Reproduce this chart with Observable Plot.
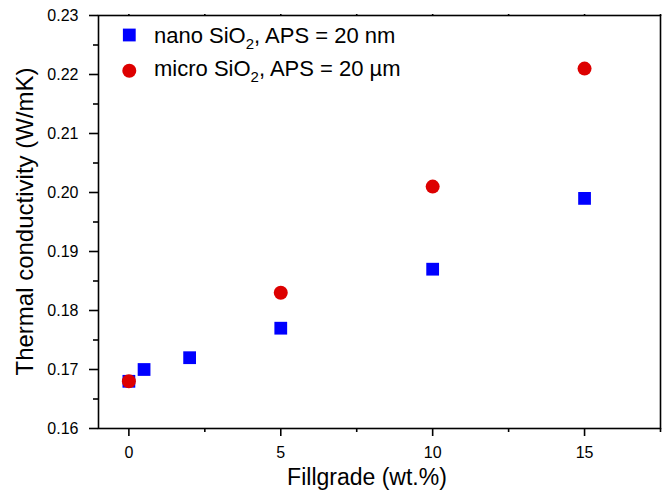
<!DOCTYPE html>
<html><head><meta charset="utf-8">
<script src="https://cdn.jsdelivr.net/npm/d3@7"></script>
<script src="https://cdn.jsdelivr.net/npm/@observablehq/plot@0.6"></script>
<style>
body{margin:0;background:#fff}
#chart svg{font-family:"Liberation Sans",Arial,Helvetica,sans-serif;}
</style>
</head><body><div id="chart"></div>
<script>
// ---- data ----
const nanoX = [0, 0.5, 2, 5, 10, 15];
const nanoY = [0.168, 0.170, 0.172, 0.177, 0.187, 0.199];
const microX = [0, 5, 10, 15];
const microY = [0.168, 0.183, 0.201, 0.221];
const xTicks = [0, 5, 10, 15];
const xMinorTicks = [2.5, 7.5, 12.5, 17.5];
const yTicks = [0.16, 0.17, 0.18, 0.19, 0.20, 0.21, 0.22, 0.23];
const yMinorTicks = [0.165, 0.175, 0.185, 0.195, 0.205, 0.215, 0.225];
const seriesNames = [["nano SiO", "2", ", APS = 20 nm"], ["micro SiO", "2", ", APS = 20 \u00B5m"]];
const xTitle = "Fillgrade (wt.%)";
const yTitle = "Thermal conductivity (W/mK)";
const blue = "#0000ff", red = "#dd0000";

const nano = nanoX.map((x, i) => ({x, y: nanoY[i]}));
const micro = microX.map((x, i) => ({x, y: microY[i]}));

const W = 665, H = 494;
const plot = Plot.plot({
  width: W, height: H,
  marginLeft: 98, marginRight: 5, marginTop: 15, marginBottom: 66,
  style: {fontFamily: '"Liberation Sans",Arial,Helvetica,sans-serif', fontSize: "16px", color: "#000", background: "#fff", overflow: "visible"},
  x: {domain: [-1, 17.5]},
  y: {domain: [0.16, 0.23]},
  marks: [
    Plot.axisX({ticks: xTicks, tickSize: 8, tickPadding: 10, strokeWidth: 1.6, label: null, fontSize: 16}),
    Plot.axisX({ticks: xMinorTicks, tickSize: 4, strokeWidth: 1.6, text: null, label: null}),
    Plot.axisX({anchor: "top", ticks: [...xTicks, ...xMinorTicks], tickSize: 2, strokeWidth: 1.6, text: null, label: null}),
    Plot.axisY({ticks: yTicks, tickSize: 9, tickPadding: 11, strokeWidth: 1.6, tickFormat: d3.format(".2f"), label: null, fontSize: 16}),
    Plot.axisY({ticks: yMinorTicks, tickSize: 5, strokeWidth: 1.6, text: null, label: null}),
    Plot.frame({stroke: "#000", strokeWidth: 1.6}),
    Plot.dot(nano, {x: "x", y: "y", symbol: "square", r: 7.2, fill: blue, stroke: null}),
    Plot.dot(micro, {x: "x", y: "y", symbol: "circle", r: 7, fill: red, stroke: null})
  ]
});
document.getElementById("chart").appendChild(plot);

const svg = d3.select(plot);
const ff = '"Liberation Sans",Arial,Helvetica,sans-serif';
// axis titles
svg.append("text").attr("x", 367).attr("y", 485).attr("text-anchor", "middle")
  .attr("font-size", 23).attr("font-family", ff).attr("fill", "#000").text(xTitle);
svg.append("text").attr("transform", "translate(32.5,221.5) rotate(-90)").attr("text-anchor", "middle")
  .attr("font-size", 24).attr("font-family", ff).attr("fill", "#000").text(yTitle);

// legend
const lg = svg.append("g").attr("font-family", ff).attr("font-size", 22).attr("fill", "#000").attr("text-anchor", "start");
lg.append("rect").attr("x", 129.3 - 6.4).attr("y", 35 - 6.4).attr("width", 12.8).attr("height", 12.8).attr("fill", blue);
lg.append("circle").attr("cx", 129.3).attr("cy", 70.7).attr("r", 7).attr("fill", red);
[42.5, 75.5].forEach((yb, i) => {
  const t = lg.append("text").attr("x", 154).attr("y", yb).attr("text-anchor", "start");
  t.append("tspan").text(seriesNames[i][0]);
  t.append("tspan").attr("font-size", 15).attr("dy", 6).text(seriesNames[i][1]);
  t.append("tspan").attr("dy", -6).text(seriesNames[i][2]);
});
</script>
</body></html>
